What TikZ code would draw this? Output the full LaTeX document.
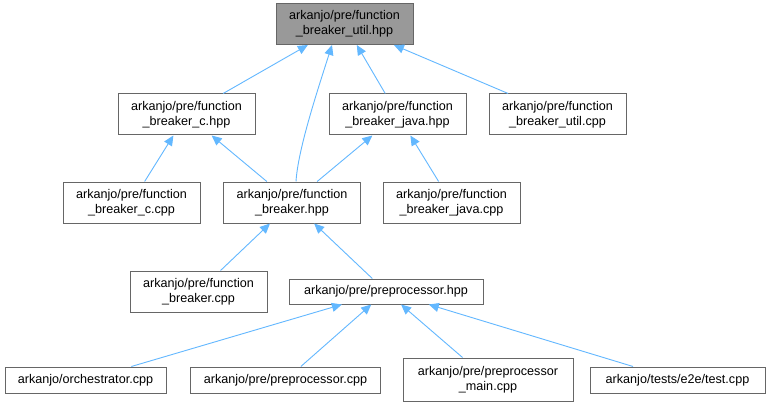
\documentclass[tikz,border=0pt]{standalone}
\usepackage{fontspec}
\setmainfont{Liberation Sans}
\usetikzlibrary{arrows.meta}
\definecolor{edgeblue}{HTML}{63B8FF}
\definecolor{boxline}{HTML}{666666}
\definecolor{topfill}{HTML}{999999}
\tikzset{
  file/.style={draw=boxline, line width=1pt, fill=white, rectangle, align=center, inner sep=0pt,
    font=\fontsize{12.6}{15}\selectfont, minimum width=137pt, minimum height=41pt},
  one/.style={minimum height=26pt},
  dep/.style={draw=edgeblue, line width=0.9pt, -{Triangle[length=10pt,width=9pt]}},
}
\begin{document}
\begin{tikzpicture}[x=1pt,y=-1pt]
\useasboundingbox[fill=white] (0,0) rectangle (767,406);
\node[file, fill=topfill] (uh) at (344.5,24) {arkanjo/pre/function\\\_breaker\_util.hpp};
\node[file] (ch) at (186.5,114.5) {arkanjo/pre/function\\\_breaker\_c.hpp};
\node[file] (jh) at (397.5,114.5) {arkanjo/pre/function\\\_breaker\_java.hpp};
\node[file] (uc) at (557.5,114.5) {arkanjo/pre/function\\\_breaker\_util.cpp};
\node[file] (cc) at (131.5,202.5) {arkanjo/pre/function\\\_breaker\_c.cpp};
\node[file] (bh) at (292,202.5) {arkanjo/pre/function\\\_breaker.hpp};
\node[file] (jc) at (451.5,202.5) {arkanjo/pre/function\\\_breaker\_java.cpp};
\node[file] (bc) at (198.5,291.5) {arkanjo/pre/function\\\_breaker.cpp};
\node[file, one, minimum width=194pt, minimum height=25pt] (ph) at (386,291.5) {arkanjo/pre/preprocessor.hpp};
\node[file, one, minimum width=161pt] (oc) at (85.5,380) {arkanjo/orchestrator.cpp};
\node[file, one, minimum width=190pt] (pc) at (285.5,380) {arkanjo/pre/preprocessor.cpp};
\node[file, minimum width=170pt, minimum height=43pt] (pm) at (488,379.5) {arkanjo/pre/preprocessor\\\_main.cpp};
\node[file, one, minimum width=175pt] (tc) at (677.5,380) {arkanjo/tests/e2e/test.cpp};
\draw[dep] (ch) -- (uh);
\draw[dep] (bh.north -| 296,0) .. controls (298,150) and (316,95) .. (uh.south -| 332,0);
\draw[dep] (jh) -- (uh);
\draw[dep] (uc) -- (uh);
\draw[dep] (cc) -- (ch);
\draw[dep] (bh) -- (ch);
\draw[dep] (bh) -- (jh);
\draw[dep] (jc) -- (jh);
\draw[dep] (bc) -- (bh);
\draw[dep] (ph) -- (bh);
\draw[dep] (oc) -- (ph);
\draw[dep] (pc) -- (ph);
\draw[dep] (pm) -- (ph);
\draw[dep] (tc) -- (ph);
\end{tikzpicture}
\end{document}
